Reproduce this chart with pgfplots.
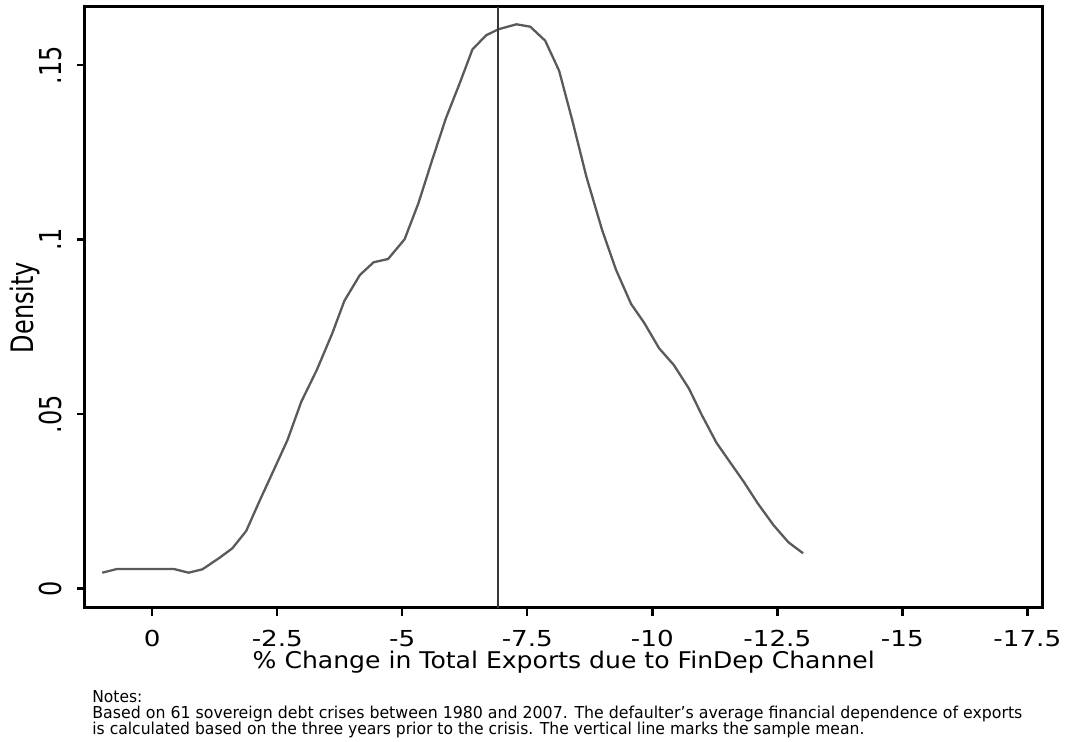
\documentclass[border=0pt]{standalone}
\usepackage{fontspec}
\setmainfont{DejaVu Sans}
\newfontfamily\tickfont[FakeStretch=1.19]{DejaVu Sans}
\usepackage{graphicx}
\usepackage{pgfplots}
\pgfplotsset{compat=1.18}
\definecolor{curvegray}{RGB}{90,90,90}
\definecolor{linegray}{RGB}{55,55,55}
\newcommand{\yl}[1]{\mbox{\scalebox{1}[1.26]{#1}}}
\newcommand{\xl}[1]{\mbox{#1}}
\begin{document}
\begin{tikzpicture}
\useasboundingbox (0,0) rectangle (534pt,371pt);
\begin{axis}[
  at={(42.5pt,67pt)}, anchor=south west,
  scale only axis, width=478.75pt, height=300.5pt,
  x dir=reverse,
  xmin=-17.804, xmax=1.346,
  ymin=-0.00559, ymax=0.16662,
  axis line style={line width=1.5pt, black},
  tick align=outside, xtick pos=bottom, ytick pos=left,
  major tick length=4pt,
  every tick/.style={line width=1.2pt, black},
  /pgf/number format/assume math mode=true,
  xtick={0,-2.5,-5,-7.5,-10,-12.5,-15,-17.5},
  xticklabels={\xl{0},\xl{-2.5},\xl{-5},\xl{-7.5},\xl{-10},\xl{-12.5},\xl{-15},\xl{-17.5}},
  ytick={0,0.05,0.1,0.15},
  yticklabels={\yl{0},\yl{.05},\yl{.1},\yl{.15}},
  xticklabel style={font=\tickfont\fontsize{11}{13}\selectfont, anchor=base, yshift=-15.3pt},
  yticklabel style={font=\fontsize{12}{14}\selectfont, xshift=-7.5pt, rotate=90, anchor=base},
  xlabel={\resizebox{311pt}{\height}{\% Change in Total Exports due to FinDep Channel}},
  xlabel style={font=\fontsize{11.5}{13}\selectfont, at={(axis description cs:0.5,0)}, anchor=base, yshift=-30.3pt},
  ylabel={\scalebox{1}[1.29]{Density}},
  ylabel style={font=\fontsize{12}{14}\selectfont, at={([xshift=-25.85pt]axis description cs:0,0.5)}, anchor=base},
]
\addplot[curvegray, line width=1.15pt, line join=round] coordinates {
(1.000,0.00453) (0.704,0.00559) (-0.432,0.00559) (-0.728,0.00453)
(-1.004,0.00550) (-1.348,0.00883) (-1.602,0.01152) (-1.878,0.01648)
(-2.154,0.02536) (-2.430,0.03395) (-2.704,0.04255) (-2.980,0.05352)
(-3.290,0.06261) (-3.600,0.07312) (-3.842,0.08244) (-4.152,0.08983)
(-4.426,0.09347) (-4.716,0.09441) (-5.046,0.10006) (-5.322,0.11037)
(-5.598,0.12278) (-5.872,0.13473) (-6.148,0.14476) (-6.404,0.15450)
(-6.678,0.15851) (-6.920,0.16023) (-7.284,0.16166) (-7.560,0.16097)
(-7.858,0.15696) (-8.136,0.14837) (-8.402,0.13404) (-8.682,0.11799)
(-8.996,0.10272) (-9.276,0.09126) (-9.576,0.08152) (-9.836,0.07616)
(-10.136,0.06883) (-10.430,0.06404) (-10.730,0.05736) (-10.990,0.04971)
(-11.282,0.04178) (-11.548,0.03633) (-11.828,0.03060) (-12.108,0.02441)
(-12.422,0.01819) (-12.722,0.01324) (-13.016,0.01009)
};
\addplot[linegray, line width=1.2pt] coordinates {(-6.92,-0.00559) (-6.92,0.16662)};
\end{axis}
\begin{scope}[every node/.style={anchor=base west, inner sep=0pt, font=\fontsize{8.2}{9}\selectfont}]
\node at (46pt,19.5pt) {\resizebox{25pt}{\height}{Notes:}};
\node at (46pt,11.5pt) {\resizebox{465pt}{\height}{Based on 61 sovereign debt crises between 1980 and 2007. The defaulter's average financial dependence of exports}};
\node at (46pt,3.5pt) {\resizebox{386pt}{\height}{is calculated based on the three years prior to the crisis. The vertical line marks the sample mean.}};
\end{scope}
\end{tikzpicture}
\end{document}
